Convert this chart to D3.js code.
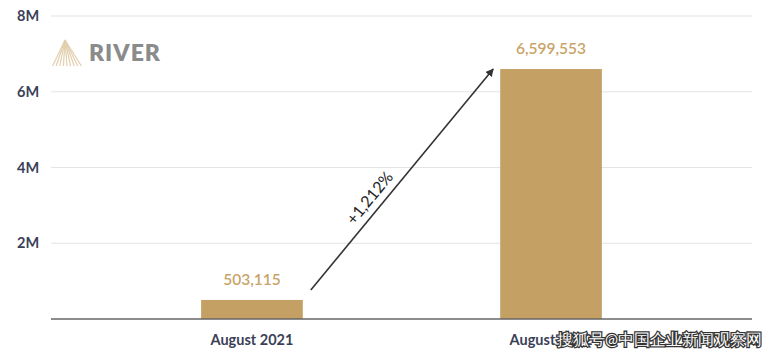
<!DOCTYPE html>
<html>
<head>
<meta charset="utf-8">
<script src="https://cdn.jsdelivr.net/npm/d3@7"></script>
<style>
  body { margin: 0; background: #fff; }
  text { font-family: Lato, "Noto Sans", sans-serif; }
</style>
</head>
<body>
<div id="chart"></div>
<script>
const categories = ["August 2021", "August 2022"];
const values = [503115, 6599553];
const yTicks = [2000000, 4000000, 6000000, 8000000];
const tickLabels = ["2M", "4M", "6M", "8M"];
const changeLabel = "+1,212%";
const watermark = "搜狐号@中国企业新闻观察网";

const width = 778, height = 354;
const plot = { left: 51, right: 752, top: 16, bottom: 319 };

const svg = d3.select("#chart").append("svg")
    .attr("width", width)
    .attr("height", height);

const x = d3.scaleBand()
    .domain(categories)
    .range([plot.left, plot.right])
    .paddingInner(0.66)
    .paddingOuter(0.502);

const y = d3.scaleLinear()
    .domain([0, 8000000])
    .range([plot.bottom, plot.top]);

// grid
svg.append("g")
    .selectAll("line")
    .data(yTicks)
    .join("line")
    .attr("x1", plot.left).attr("x2", plot.right)
    .attr("y1", d => y(d)).attr("y2", d => y(d))
    .attr("stroke", "#e4e4e4")
    .attr("stroke-width", 1.2);

svg.append("g")
    .selectAll("text")
    .data(yTicks)
    .join("text")
    .attr("x", 17)
    .attr("y", d => y(d) + 5)
    .attr("fill", "#3b3f58")
    .attr("font-size", 14.5)
    .attr("font-weight", "bold")
    .text((d, i) => tickLabels[i]);

// logo
const logo = svg.append("g").attr("transform", "translate(52,40)");
d3.range(-4, 5).forEach(k => {
    logo.append("line")
        .attr("x1", 13).attr("y1", 0)
        .attr("x2", 15 + k * 3.6).attr("y2", 26)
        .attr("stroke", "#e2cfae")
        .attr("stroke-width", 1.2);
});
svg.append("text")
    .attr("x", 89).attr("y", 61)
    .attr("fill", "#8b8b8b")
    .attr("font-family", "'Open Sans', sans-serif")
    .attr("font-size", 23)
    .attr("font-weight", 800)
    .attr("letter-spacing", 1)
    .text("RIVER");

// bars
svg.append("g")
    .selectAll("rect")
    .data(values)
    .join("rect")
    .attr("x", (d, i) => x(categories[i]))
    .attr("y", d => y(d))
    .attr("width", x.bandwidth())
    .attr("height", d => y(0) - y(d))
    .attr("fill", "#c4a064");

svg.append("g")
    .selectAll("text")
    .data(values)
    .join("text")
    .attr("x", (d, i) => x(categories[i]) + x.bandwidth() / 2)
    .attr("y", d => y(d) - 15)
    .attr("text-anchor", "middle")
    .attr("fill", "#c9a468")
    .attr("font-size", 15.5)
    .attr("font-weight", "600")
    .text(d => d3.format(",")(d));

// axis
svg.append("line")
    .attr("x1", plot.left).attr("x2", plot.right)
    .attr("y1", y(0)).attr("y2", y(0))
    .attr("stroke", "#666")
    .attr("stroke-width", 1.5);

svg.append("g")
    .selectAll("text")
    .data(categories)
    .join("text")
    .attr("x", d => x(d) + x.bandwidth() / 2)
    .attr("y", 345)
    .attr("text-anchor", "middle")
    .attr("fill", "#3b3f58")
    .attr("font-size", 14.5)
    .attr("font-weight", "bold")
    .text(d => d);

// arrow
const defs = svg.append("defs");
defs.append("marker")
    .attr("id", "arrowhead")
    .attr("viewBox", "0 0 10 10")
    .attr("refX", 9).attr("refY", 5)
    .attr("markerWidth", 8).attr("markerHeight", 8)
    .attr("markerUnits", "userSpaceOnUse")
    .attr("orient", "auto")
    .append("path")
    .attr("d", "M0,0 L10,5 L0,10 Z")
    .attr("fill", "#333");

const ax1 = x(categories[0]) + x.bandwidth() + 8, ay1 = y(values[0]) - 10;
const ax2 = x(categories[1]) - 7, ay2 = y(values[1]);
svg.append("line")
    .attr("x1", ax1).attr("y1", ay1)
    .attr("x2", ax2).attr("y2", ay2)
    .attr("stroke", "#333")
    .attr("stroke-width", 1.6)
    .attr("marker-end", "url(#arrowhead)");

const ang = Math.atan2(ay2 - ay1, ax2 - ax1) * 180 / Math.PI;
svg.append("text")
    .attr("transform", `translate(${(ax1 + ax2) / 2 - 28},${(ay1 + ay2) / 2 + 22}) rotate(${ang})`)
    .attr("text-anchor", "middle")
    .attr("fill", "#222")
    .attr("font-size", 16)
    .text(changeLabel);

// watermark
svg.append("text")
    .attr("x", 762).attr("y", 345)
    .attr("text-anchor", "end")
    .attr("font-family", "Noto Sans CJK SC")
    .attr("font-size", 15.5)
    .attr("fill", "#fff")
    .attr("stroke", "#333")
    .attr("stroke-width", 2.5)
    .attr("paint-order", "stroke")
    .text(watermark);
</script>
</body>
</html>
